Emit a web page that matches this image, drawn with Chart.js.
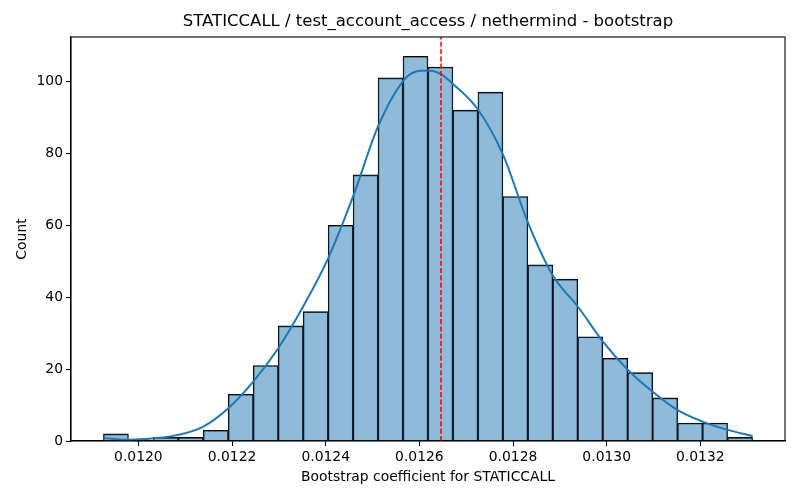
<!DOCTYPE html>
<html>
<head>
<meta charset="utf-8">
<script src="https://cdn.jsdelivr.net/npm/chart.js@4.4.0/dist/chart.umd.min.js"></script>
<style>
  html, body { margin: 0; padding: 0; background: #fff; }
  canvas { display: block; }
</style>
</head>
<body>
<canvas id="hist" width="800" height="500"></canvas>
<script>
// bin edges of the histogram (27 edges -> 26 bins)
const binEdges = [
  0.0119254, 0.0119787, 0.0120320, 0.0120853, 0.0121386, 0.0121920, 0.0122453,
  0.0122986, 0.0123519, 0.0124052, 0.0124585, 0.0125118, 0.0125651, 0.0126184,
  0.0126717, 0.0127251, 0.0127784, 0.0128317, 0.0128850, 0.0129383, 0.0129916,
  0.0130449, 0.0130982, 0.0131515, 0.0132048, 0.0132582, 0.0133115
];
const binCounts = [
  2, 0, 1, 1, 3, 13, 21, 32, 36, 60, 74, 101, 107,
  104, 92, 97, 68, 49, 45, 29, 23, 19, 12, 5, 5, 1
];

// KDE curve (scaled to counts)
const kdeX = [
  0.0119254, 0.0119787, 0.0120320, 0.0120853, 0.0121386, 0.0121920, 0.0122453,
  0.0122986, 0.0123519, 0.0124052, 0.0124585, 0.0125118, 0.0125651, 0.0125918,
  0.0126184, 0.0126450, 0.0126717, 0.0127251, 0.0127784, 0.0128317, 0.0128850,
  0.0129383, 0.0129916, 0.0130449, 0.0130982, 0.0131515, 0.0132048, 0.0132582,
  0.0133115
];
const kdeY = [
  0.8, 0.35, 0.75, 1.7, 4.0, 9.1, 16.5,
  25.8, 37.4, 50.8, 68.0, 87.5, 100.1, 102.7,
  103.0, 102.1, 99.3, 92.2, 79.7, 60.8, 46.0,
  37.4, 27.7, 19.8, 13.7, 8.6, 5.4, 3.1,
  1.4
];

const meanValue = 0.0126469;

const xMin = 0.0118561, xMax = 0.0133808;
const yMax = 112.35;
const xTickValues = [0.0120, 0.0122, 0.0124, 0.0126, 0.0128, 0.0130, 0.0132];
const yTickValues = [0, 20, 40, 60, 80, 100];

const titleText = 'STATICCALL / test_account_access / nethermind - bootstrap';
const xLabel = 'Bootstrap coefficient for STATICCALL';
const yLabel = 'Count';

Chart.defaults.font.family = '"DejaVu Sans", sans-serif';
Chart.defaults.color = '#000';

const barPoints = binCounts.map((c, i) => ({ x: (binEdges[i] + binEdges[i + 1]) / 2, y: c }));
const kdePoints = kdeX.map((x, i) => ({ x: x, y: kdeY[i] }));

// frame (all four spines) + red dashed mean line
const framePlugin = {
  id: 'frame',
  afterDatasetsDraw(chart) {
    const { ctx, chartArea: a, scales } = chart;
    const px = Math.round(scales.x.getPixelForValue(meanValue));
    ctx.save();
    ctx.strokeStyle = '#ff0000';
    ctx.lineWidth = 1.5;
    ctx.setLineDash([5.1, 2.2]);
    ctx.beginPath();
    ctx.moveTo(px, a.bottom);
    ctx.lineTo(px, a.top);
    ctx.stroke();
    ctx.setLineDash([]);
    ctx.strokeStyle = '#000';
    ctx.lineWidth = 1.1;
    ctx.strokeRect(a.left, a.top, a.right - a.left, a.bottom - a.top);
    ctx.restore();
  }
};

new Chart(document.getElementById('hist'), {
  data: {
    datasets: [
      {
        type: 'line',
        label: 'KDE',
        data: kdePoints,
        borderColor: '#1f77b4',
        borderWidth: 2,
        pointRadius: 0,
        fill: false,
        cubicInterpolationMode: 'monotone',
        order: 0
      },
      {
        type: 'bar',
        label: 'Count',
        data: barPoints,
        backgroundColor: 'rgba(31,119,180,0.5)',
        borderColor: '#000',
        borderWidth: { top: 1, left: 0.8, right: 0.8, bottom: 0 },
        borderSkipped: false,
        barPercentage: 1,
        categoryPercentage: 1,
        order: 1
      }
    ]
  },
  options: {
    responsive: false,
    animation: false,
    devicePixelRatio: 1,
    layout: { padding: { left: 0, right: 15, top: 0, bottom: 0 } },
    scales: {
      x: {
        type: 'linear',
        offset: false,
        min: xMin, max: xMax,
        afterBuildTicks: s => { s.ticks = xTickValues.map(v => ({ value: v })); },
        afterFit: s => { s.height = 59; },
        ticks: { font: { size: 13.9 }, padding: 3, maxRotation: 0, callback: v => v.toFixed(4) },
        grid: { offset: false, drawOnChartArea: false, drawTicks: true, tickLength: 5, tickColor: '#000' },
        border: { display: true, color: '#000', width: 1.1 },
        title: { display: true, text: xLabel, font: { size: 13.9 }, padding: { top: 0, bottom: 14.7 } }
      },
      y: {
        type: 'linear',
        min: 0, max: yMax,
        afterBuildTicks: s => { s.ticks = yTickValues.map(v => ({ value: v })); },
        afterFit: s => { s.width = 71; },
        ticks: { font: { size: 13.9 }, padding: 3 },
        grid: { drawOnChartArea: false, drawTicks: true, tickLength: 5, tickColor: '#000' },
        border: { display: true, color: '#000', width: 1.1 },
        title: { display: true, text: yLabel, font: { size: 13.9 }, padding: { top: 13.7, bottom: 0 } }
      }
    },
    plugins: {
      legend: { display: false },
      tooltip: { enabled: false },
      title: {
        display: true,
        text: titleText,
        fullSize: false,
        font: { size: 16.5, weight: 'normal', lineHeight: 1.2 },
        padding: { top: 12, bottom: 5.2 }
      }
    }
  },
  plugins: [framePlugin]
});
</script>
</body>
</html>
